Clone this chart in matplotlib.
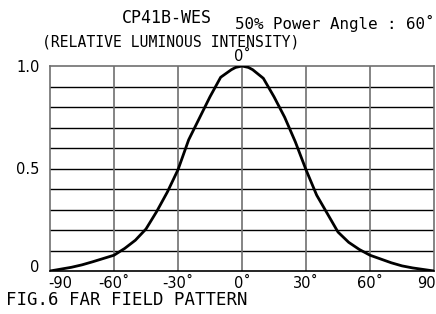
import numpy as np
import matplotlib.pyplot as plt

# far field pattern
angle = [-90, -80, -75, -70, -60, -55, -50, -45, -40, -35, -30, -25, -20, -15, -10, -5, -3, 0,
         3, 5, 10, 15, 20, 25, 30, 35, 40, 45, 50, 55, 60, 70, 75, 80, 90]
intensity = [0.0, 0.018, 0.03, 0.045, 0.077, 0.11, 0.15, 0.205, 0.29, 0.385, 0.494, 0.64, 0.745, 0.85, 0.945, 0.982, 0.993, 1.0,
             0.993, 0.982, 0.94, 0.85, 0.75, 0.63, 0.494, 0.37, 0.28, 0.19, 0.14, 0.105, 0.077, 0.04, 0.025, 0.015, 0.0]

xtick_pos = [-90, -60, -30, 0, 30, 60, 90]
xtick_lab = ['-90', '-60\u02da', '-30\u02da', '0\u02da', '30\u02da', '60\u02da', '90']
ytick_pos = [0, 0.5, 1.0]
ytick_lab = ['0', '0.5', '1.0']

plt.rcParams['font.family'] = 'DejaVu Sans Mono'
fig = plt.figure(figsize=(4.36, 3.14), dpi=100)
ax = fig.add_axes([50/436, 43/314, 384/436, 205/314])

# grid
for y in np.arange(0.1, 1.0, 0.1):
    ax.axhline(y, color='black', lw=1.0, zorder=1)
for x in xtick_pos[1:-1]:
    ax.axvline(x, color='#707070', lw=1.2, zorder=1)

ax.plot(angle, intensity, color='black', lw=2.0, zorder=3)

ax.set_xlim(-90, 90)
ax.set_ylim(0, 1.0)
ax.set_xticks([])
ax.set_yticks([])
for s in ax.spines.values():
    s.set_color('#707070')
    s.set_linewidth(1.2)
ax.spines['bottom'].set_color('black')

tk = dict(fontsize=10.5, family='DejaVu Sans')
for x, lab in zip(xtick_pos, xtick_lab):
    if x == -90:
        ax.text(x - 1, -0.025, lab, ha='left', va='top', **tk)
    elif x == 90:
        ax.text(x + 0.8, -0.025, lab, ha='right', va='top', **tk)
    else:
        ax.text(x, -0.025, lab, ha='center', va='top', **tk)
for y, lab in zip(ytick_pos, ytick_lab):
    dy = 0.015 if y == 0 else -0.005
    ax.text(-95, y + dy, lab, ha='right', va='center', **tk)

ax.text(0, 1.01, '0\u02da', ha='center', va='bottom', **tk)

fig.text(122/436, 1 - 18/314, 'CP41B-WES', ha='left', va='center', fontsize=12)
fig.text(235/436, 1 - 23/314, '50% Power Angle : 60\u02da', ha='left', va='center', fontsize=11.4)
fig.text(42/436, 1 - 42/314, '(RELATIVE LUMINOUS INTENSITY)', ha='left', va='center', fontsize=10.6)
fig.text(6/436, 1 - 300/314, 'FIG.6 FAR FIELD PATTERN', ha='left', va='center', fontsize=12.5)

fig.savefig('out.png', dpi=100)
